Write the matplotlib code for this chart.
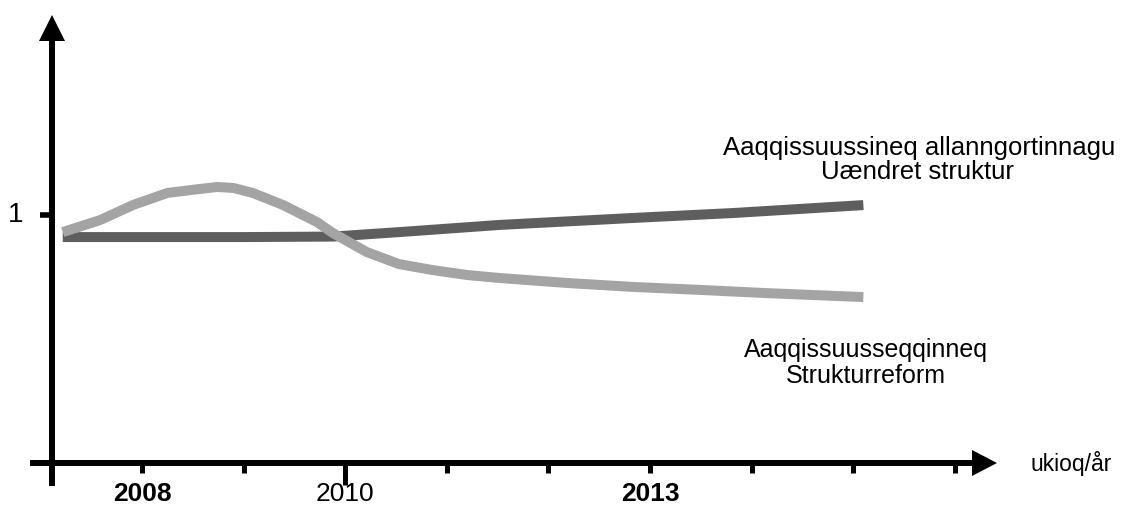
import matplotlib
matplotlib.use('Agg')
import matplotlib.pyplot as plt
from matplotlib.patches import Polygon

plt.rcParams['font.family'] = ['Liberation Sans', 'DejaVu Sans']

# data
years_a = [2007.22, 2008, 2009, 2009.88, 2010.53, 2011.52, 2012.83, 2013.82, 2015.10]
uaendret = [0.911, 0.911, 0.911, 0.913, 0.931, 0.960, 0.988, 1.008, 1.040]

years_b = [2007.22, 2007.59, 2007.91, 2008.25, 2008.57, 2008.74, 2008.90, 2009.09,
           2009.39, 2009.72, 2009.88, 2010.21, 2010.53, 2010.86, 2011.20, 2011.52,
           2012.18, 2012.83, 2013.49, 2014.15, 2015.10]
reform = [0.931, 0.980, 1.040, 1.089, 1.105, 1.113, 1.109, 1.089,
          1.040, 0.972, 0.927, 0.851, 0.802, 0.778, 0.758, 0.746,
          0.726, 0.710, 0.698, 0.685, 0.669]

tick_years = [2008, 2009, 2010, 2011, 2012, 2013, 2014, 2015, 2016]
labelled_years = {2008: 'bold', 2010: 'normal', 2013: 'bold'}

# pixel <-> data helpers (x: 101.6 px per year, 2008 at px 142; y: 0 at px 463, 1 at px 215)
W, H = 1125, 507
def px(x):
    return 2008 + (x - 142) / 101.6
def py(y):
    return (463 - y) / 248.0

fig = plt.figure(figsize=[W / 100, H / 100], dpi=100)
ax = fig.add_axes([0, 0, 1, 1])
ax.set_xlim(px(0), px(W))
ax.set_ylim(py(H), py(0))
ax.axis('off')

# axes with arrows
ax.plot([px(52), px(52)], [py(486), py(40)], color='black', lw=4.3, solid_capstyle='butt')
ax.add_patch(Polygon([(px(52), py(15)), (px(39), py(41)), (px(65), py(41))], closed=True,
                     color='black', lw=0))
ax.plot([px(30), px(973)], [0, 0], color='black', lw=4.3, solid_capstyle='butt')
ax.add_patch(Polygon([(px(997), 0), (px(972), py(450)), (px(972), py(476))], closed=True,
                     color='black', lw=0))

# ticks
for yr in tick_years:
    bottom = py(485) if yr == 2010 else py(473)
    ax.plot([yr, yr], [0, bottom], color='black', lw=3.6, solid_capstyle='butt')
for yr, wt in labelled_years.items():
    ax.text(yr, py(501), str(yr), ha='center', va='baseline', fontsize=19, fontweight=wt)

ax.plot([px(40), px(52)], [1, 1], color='black', lw=4.0, solid_capstyle='butt')
ax.text(px(16), py(222), '1', ha='center', va='baseline', fontsize=20)

# series
ax.plot(years_a, uaendret, color='#5e5e5e', lw=7.2, solid_capstyle='butt')
ax.plot(years_b, reform, color='#a4a4a4', lw=7.2, solid_capstyle='butt')

# labels
ax.text(px(919), py(155), 'Aaqqissuussineq allanngortinnagu', ha='center', va='baseline', fontsize=18.5)
ax.text(px(917), py(179), 'Uændret struktur', ha='center', va='baseline', fontsize=18.5)
ax.text(px(866), py(357), 'Aaqqissuusseqqinneq', ha='center', va='baseline', fontsize=18)
ax.text(px(866), py(383), 'Strukturreform', ha='center', va='baseline', fontsize=18)
ax.text(px(1030), 0, 'ukioq/år', ha='left', va='center', fontsize=16.5)

fig.savefig('out.png', dpi=100)
